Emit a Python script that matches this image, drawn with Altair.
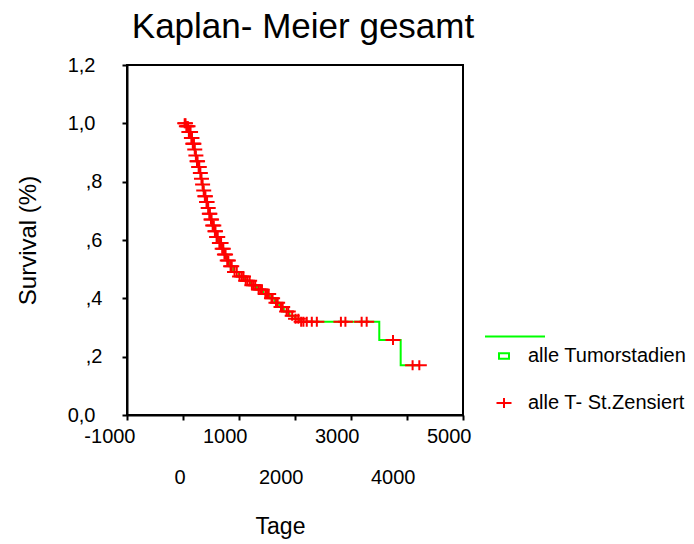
import bisect

import altair as alt
import pandas as pd

FONT = "Liberation Sans"
GREEN = "#00ff00"
RED = "#ff0000"

# Kaplan-Meier step function: day of each drop and survival after it
event_days = [0, 60, 100, 140, 170, 200, 220, 240, 270, 300, 320, 340, 360, 380,
              410, 440, 460, 490, 520, 560, 600, 640, 690, 730, 780, 830, 900,
              1000, 1100, 1200, 1320, 1430, 1550, 1640, 1720, 1800, 1900, 2000,
              2080, 3505, 3887]
event_surv = [1.0, 0.99, 0.97, 0.95, 0.93, 0.91, 0.89, 0.87, 0.85, 0.83, 0.81,
              0.79, 0.77, 0.75, 0.73, 0.71, 0.69, 0.67, 0.65, 0.63, 0.61, 0.59,
              0.57, 0.55, 0.53, 0.51, 0.49, 0.475, 0.46, 0.445, 0.43, 0.415, 0.40,
              0.385, 0.37, 0.355, 0.34, 0.33, 0.32, 0.257, 0.171]

# censored observations (days)
censor_days = [30, 45, 60, 75, 90, 105, 120, 135, 150, 160, 175, 185, 195, 210,
               230, 250, 260, 280, 290, 310, 330, 350, 370, 390, 400, 420, 430,
               450, 470, 480, 500, 510, 530, 550, 570, 580, 600, 620, 650, 660,
               680, 700, 720, 740, 760, 790, 810, 850, 870, 920, 960, 1010, 1050,
               1080, 1120, 1150, 1190, 1230, 1260, 1290, 1350, 1380, 1410, 1470,
               1500, 1530, 1580, 1600, 1660, 1690, 1750, 1780, 1850, 1880, 1950,
               2010, 2060, 2110, 2150, 2210, 2300, 2390, 2820, 2900, 3190, 3280,
               3750, 4100, 4220]

x_ticks = [-1000, 0, 1000, 2000, 3000, 4000, 5000]
y_ticks = [0, 0.2, 0.4, 0.6, 0.8, 1.0, 1.2]
series_names = ["alle Tumorstadien", "alle T- St.Zensiert"]

# survival curve drawn with step-after interpolation, held to the last censor
line_df = pd.DataFrame({
    "day": event_days + [censor_days[-1]],
    "surv": event_surv + [event_surv[-1]],
})


def surv_at(day):
    return event_surv[bisect.bisect_right(event_days, day) - 1]


cens_df = pd.DataFrame({
    "day": censor_days,
    "surv": [surv_at(d) for d in censor_days],
    "series": series_names[1],
})

# legend glyphs as custom paths (unit = 1px at size 4)
square_with_line = "M-5,-2.75H5V2.75H-5Z M-19,-19.5H41"
plus = "M-7.5,0H7.5M0,-5V5"

x_scale = alt.Scale(domain=[-1000, 5000], nice=False, zero=False)
y_scale = alt.Scale(domain=[0, 1.2], nice=False)

x_axis = alt.Axis(
    values=x_ticks,
    title="Tage",
    grid=False,
    labelExpr="'' + datum.value",
    labelAlign="right",
    labelOffset={"condition": {"test": "datum.value == 0", "value": 2}, "value": 8},
    labelPadding={"condition": {"test": "datum.value % 2000 == 0", "value": 47}, "value": 6},
    labelFlush=False,
    labelOverlap=False,
    titleX=153,
    titleY=118,
    titleAlign="center",
    titleBaseline="alphabetic",
    titleFontSize=23,
)
y_axis = alt.Axis(
    values=y_ticks,
    title="Survival (%)",
    grid=False,
    labelExpr=("datum.value == 0 ? '0,0' : (datum.value >= 1 ? "
               "replace(format(datum.value, '.1f'), '.', ',') : "
               "replace(format(datum.value, '.1f'), '0.', ','))"),
    labelPadding={"condition": {"test": "datum.value == 0 || datum.value >= 1", "value": 27},
                  "value": 20},
    labelFlush=False,
    labelOverlap=False,
    titleX=-99,
    titleY=175,
    titleAlign="center",
    titleBaseline="middle",
    titleFontSize=24,
)

legend = alt.Legend(
    title=None,
    orient="none",
    legendX=367,
    legendY=281,
    symbolSize=4,
    symbolStrokeWidth=2,
    labelFont=FONT,
    labelFontSize=20,
    labelColor="black",
    labelOffset=14,
    labelLimit=400,
    rowPadding=27,
    padding=0,
)

curve = alt.Chart(line_df).mark_line(
    interpolate="step-after", color=GREEN, strokeWidth=2
).encode(
    x=alt.X("day:Q", scale=x_scale, axis=x_axis),
    y=alt.Y("surv:Q", scale=y_scale, axis=y_axis),
)

censored = alt.Chart(cens_df).mark_point(
    filled=False, size=4, strokeWidth=2, opacity=1
).encode(
    x=alt.X("day:Q", scale=x_scale),
    y=alt.Y("surv:Q", scale=y_scale),
    color=alt.Color("series:N", scale=alt.Scale(domain=series_names, range=[GREEN, RED]),
                    legend=legend),
    shape=alt.Shape("series:N", scale=alt.Scale(domain=series_names,
                                                range=[square_with_line, plus]),
                    legend=legend),
)

chart = alt.layer(curve, censored).properties(
    width=336,
    height=350,
    background="white",
    autosize=alt.AutoSizeParams(type="none"),
    padding={"left": 127, "top": 65, "right": 231, "bottom": 129},
    title=alt.TitleParams(
        "Kaplan- Meier gesamt",
        font=FONT,
        fontSize=35,
        fontWeight="normal",
        color="black",
        anchor="middle",
        dx=8,
        dy=-6,
    ),
).configure_view(
    stroke="black", strokeWidth=2
).configure_axis(
    domainColor="black",
    domainWidth=2,
    tickColor="black",
    tickWidth=2,
    tickSize=5,
    labelFont=FONT,
    labelFontSize=20,
    labelColor="black",
    titleFont=FONT,
    titleFontWeight="normal",
    titleColor="black",
)

chart.save("out.html", embed_options={"renderer": "svg", "actions": False})
